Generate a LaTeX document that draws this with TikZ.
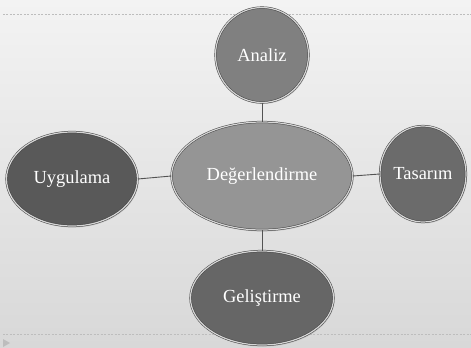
\documentclass[tikz,border=0pt]{standalone}
\usepackage{fontspec}
\setmainfont{Liberation Serif}
\usetikzlibrary{shapes.geometric,shadows}
\definecolor{bgtop}{HTML}{F3F3F3}
\definecolor{bgbot}{HTML}{D8D8D8}
\definecolor{dashc}{HTML}{BDBDBD}
\definecolor{edgec}{HTML}{404040}
\definecolor{rimc}{HTML}{D6D6D6}
\tikzset{
  blob/.style={ellipse, inner sep=0pt, draw=edgec, line width=0.5pt,
    double=rimc, double distance=1.2pt, text=white,
    font=\fontsize{18.5}{20}\selectfont,
    drop shadow={shadow xshift=1pt, shadow yshift=-1.5pt, opacity=0.25}},
  link/.style={draw=edgec!90, line width=0.9pt},
  guide/.style={draw=dashc, line width=0.5pt, dash pattern=on 2pt off 1.5pt}
}
\begin{document}
\begin{tikzpicture}[x=1bp,y=-1bp]
\shade[top color=bgtop, bottom color=bgbot] (0,0) rectangle (471,347);
\useasboundingbox (0,0) rectangle (471,347);
\draw[guide] (3,14) -- (471,14);
\draw[guide] (3,334) -- (471,334);
\fill[dashc] (3,339) -- (10,343) -- (3,347) -- cycle;

\node[blob, fill=gray!83, minimum width=181bp, minimum height=108bp] (center) at (262,176) {Değerlendirme};
\node[blob, fill=gray, minimum width=93bp, minimum height=95bp] (analiz) at (262,55) {Analiz};
\node[blob, fill=black!65, minimum width=131bp, minimum height=94bp] (uyg) at (72,179) {Uygulama};
\node[blob, fill=black!58, minimum width=86bp, minimum height=96bp] (tas) at (423,174) {Tasarım};
\node[blob, fill=black!60, minimum width=143bp, minimum height=94bp] (gel) at (262,298) {Geliştirme};

\draw[link] (analiz.south) -- (center.north);
\draw[link] (center.south) -- (gel.north);
\draw[link] (uyg.east) -- (center.west);
\draw[link] (center.east) -- (tas.west);
\end{tikzpicture}
\end{document}
